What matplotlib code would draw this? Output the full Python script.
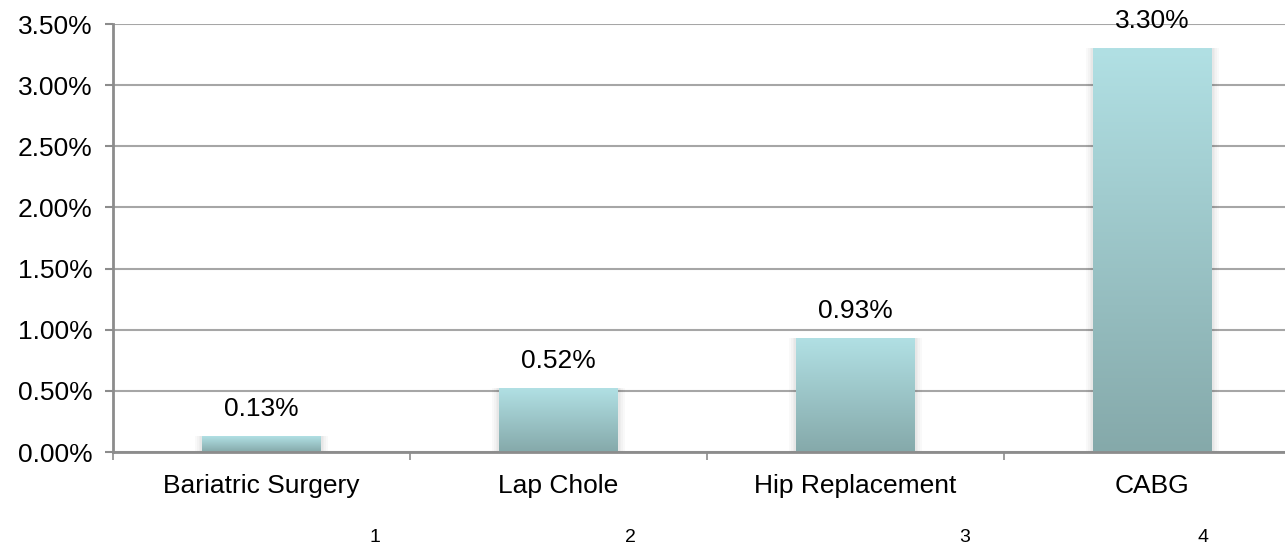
import numpy as np
import matplotlib
matplotlib.use("Agg")
import matplotlib.pyplot as plt
from matplotlib.colors import LinearSegmentedColormap
from matplotlib.ticker import FuncFormatter, FixedLocator

categories = ["Bariatric Surgery", "Lap Chole", "Hip Replacement", "CABG"]
rates = [0.13, 0.52, 0.93, 3.30]
footer_labels = ["1", "2", "3", "4"]
footer_x = [375, 630, 965, 1203]  # pixel positions of the footer numbers

plt.rcParams["font.family"] = ["Liberation Sans", "DejaVu Sans"]

W, H = 1285, 548
fig = plt.figure(figsize=(W / 100, H / 100), dpi=100)
ax = fig.add_axes([113 / W, 96 / H, 1188 / W, 428 / H])

# gradient fill: light cyan at the top, muted teal at the bottom
cmap = LinearSegmentedColormap.from_list("teal", ["#85a9aa", "#b1e0e4"])
grad = np.linspace(0, 1, 256).reshape(-1, 1)
bar_w = 0.4
for i, v in enumerate(rates):
    x0 = i + 0.5 - bar_w / 2
    # faint blurred shadow around each bar
    for k in range(1, 5):
        pad = 0.006 * k
        ax.bar(i + 0.5, v + pad, width=bar_w + 2 * pad, bottom=-pad,
               color="#000000", alpha=0.025, zorder=2, linewidth=0)
    ax.imshow(grad, extent=[x0, x0 + bar_w, 0, v], origin="lower",
              cmap=cmap, aspect="auto", zorder=3)
    ax.annotate(f"{v:.2f}%", (i + 0.5, v), xytext=(0, 11),
                textcoords="offset points", ha="center", va="bottom",
                fontsize=19, zorder=5)

ax.set_xlim(0, len(categories))
ax.set_ylim(0, 3.5)

ax.yaxis.set_major_locator(FixedLocator(np.arange(0, 3.51, 0.5)))
ax.yaxis.set_major_formatter(FuncFormatter(lambda y, _: f"{y:.2f}%"))
ax.grid(axis="y", color="#a6a6a6", linewidth=1.5, zorder=1)
ax.set_axisbelow(True)

ax.set_xticks(range(len(categories) + 1))
ax.set_xticklabels([])
ax.set_xticks([i + 0.5 for i in range(len(categories))], minor=True)
ax.set_xticklabels(categories, minor=True)
ax.tick_params(axis="x", which="minor", length=0, pad=16, labelsize=19)
ax.tick_params(axis="x", which="major", length=6, width=1.2, color="#8c8c8c")
ax.tick_params(axis="y", length=6, width=1.5, color="#8c8c8c", pad=9,
               labelsize=19)

for side in ["top", "right"]:
    ax.spines[side].set_visible(False)
for side in ["left", "bottom"]:
    ax.spines[side].set_color("#8c8c8c")
    ax.spines[side].set_linewidth(2)
    ax.spines[side].set_zorder(4)

for lab, px in zip(footer_labels, footer_x):
    fig.text(px / W, 1 - 538 / H, lab, ha="center", va="center", fontsize=14)

fig.savefig("out.png", dpi=100)
